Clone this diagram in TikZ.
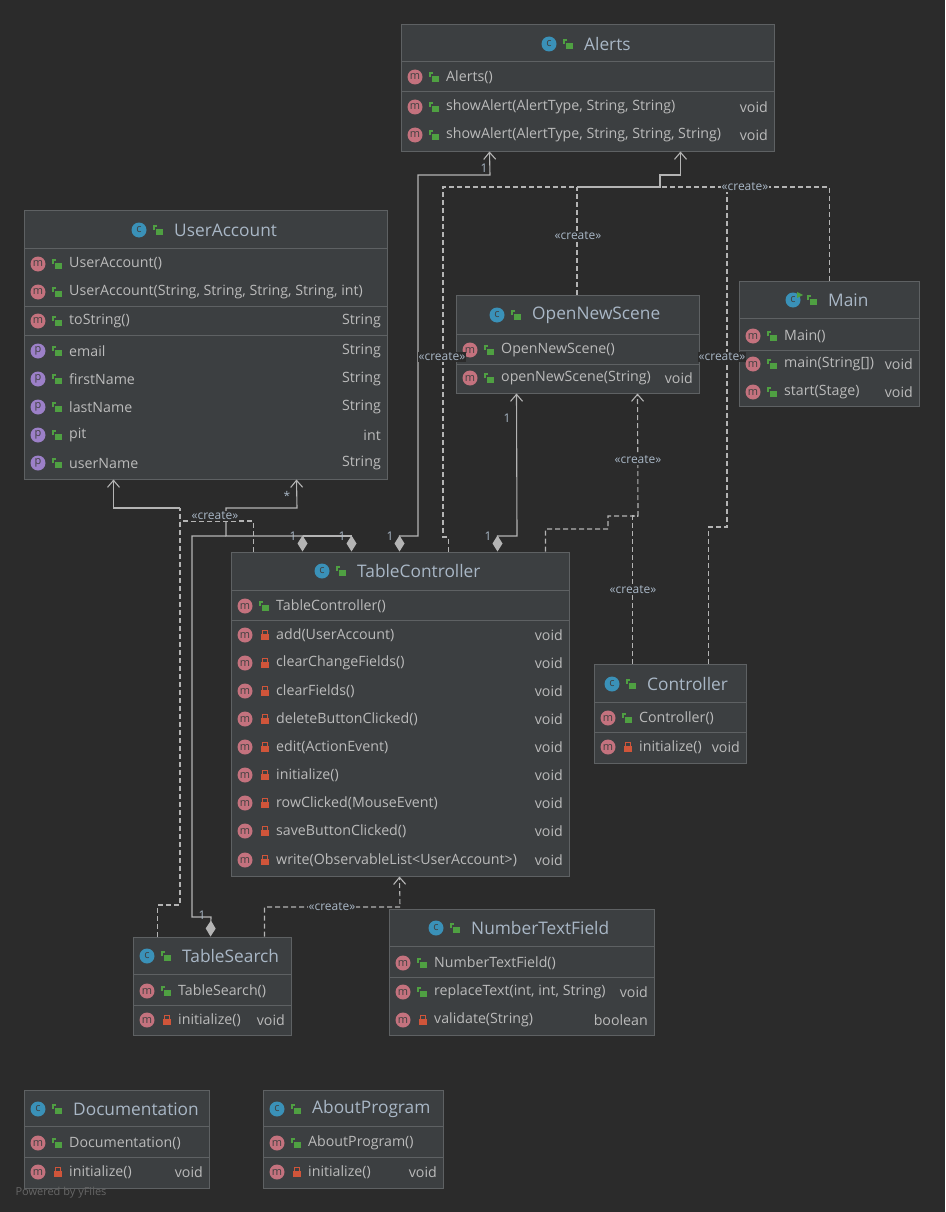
\documentclass[tikz,border=0pt]{standalone}
\usepackage{fontspec}
\setmainfont{Open Sans}
\usetikzlibrary{arrows.meta,calc}
\definecolor{bg}{HTML}{2B2B2B}
\definecolor{boxf}{HTML}{3C3F41}
\definecolor{bord}{HTML}{5E6163}
\definecolor{txt}{HTML}{BBBBBB}
\definecolor{ttl}{HTML}{A9B7C6}
\definecolor{lc}{HTML}{B4B4B4}
\definecolor{mcol}{HTML}{C4727E}
\definecolor{pcol}{HTML}{9C80C8}
\definecolor{ccol}{HTML}{3A91B8}
\definecolor{pub}{HTML}{4FA042}
\definecolor{pri}{HTML}{D0553A}
\tikzset{
 ubox/.style={draw=bord,fill=boxf,line width=1,inner sep=0},
 sep/.style={draw=bord,line width=1},
 rtxt/.style={anchor=west,text=txt,font=\fontsize{14.2}{16}\selectfont,inner sep=0},
 ttxt/.style={anchor=west,text=ttl,font=\fontsize{17.3}{19}\selectfont,inner sep=0},
 ln/.style={draw=lc,line width=1.1},
 dep/.style={ln,dash pattern=on 5pt off 3pt},
 tip/.style={-{Straight Barb[length=7,width=12]}},
 dia/.style={{Diamond[length=16,width=10,fill=lc]}-},
 agg/.style={{Diamond[length=16,width=10,fill=lc]}-{Straight Barb[length=7,width=12]}},
 lab/.style={text=ttl,font=\fontsize{12}{13}\selectfont,inner sep=1,fill=bg},
 mul/.style={text=ttl,font=\fontsize{12}{13}\selectfont,inner sep=0}
}
\newcommand\ubx[6]{\node[ubox,minimum width={#4-#2},minimum height={#5-#3}] (#1) at ({(#2+#4)/2},{(#3+#5)/2}) {};
 \draw[sep] (#2,#6) -- (#4,#6);}
\newcommand\sepl[3]{\draw[sep] (#1,#3) -- (#2,#3);}
\newcommand\ic[4]{\node[circle,fill=#3,inner sep=0,minimum size=15,text=black!75,font=\fontsize{11}{11}\selectfont] at (#1,#2) {#4};}
\newcommand\lk[2]{\fill[pub] ({#1-1},{#2-1}) rectangle ({#1+6},{#2+5});
 \draw[pub,line width=1.3] ({#1-3},{#2}) -- ({#1-3},{#2-4}) -- ({#1},{#2-4});}
\newcommand\lkp[2]{\fill[pri] ({#1-2},{#2-1}) rectangle ({#1+6},{#2+5});
 \draw[pri,line width=1.3] ({#1-0.5},{#2-1}) -- ({#1-0.5},{#2-4.5}) -- ({#1+4.5},{#2-4.5}) -- ({#1+4.5},{#2-1});}
\newcommand\ttlx[3]{\ic{#1}{#2}{ccol}{c}\lk{(#1+18)}{#2}\node[ttxt] at ({#1+35},#2) {#3};}
\newcommand\rw[8]{\ic{{#1+14}}{#3}{#4}{#5}#6{(#1+32)}{#3}\node[rtxt] at ({#1+45},#3) {#7};
 \node[rtxt,anchor=east] at ({#2-6},#3) {#8};}
\begin{document}
\begin{tikzpicture}[x=1pt,y=-1pt]
\useasboundingbox[fill=bg] (0,0) rectangle (945,1212);
% ---------- Alerts
\ubx{AL}{401}{25}{774}{151}{62}
\ttlx{549}{44}{Alerts}
\sepl{401}{774}{92}
\rw{401}{774}{77}{mcol}{m}{\lk}{Alerts()}{}
\rw{401}{774}{107}{mcol}{m}{\lk}{showAlert(AlertType, String, String)}{void}
\rw{401}{774}{135}{mcol}{m}{\lk}{showAlert(AlertType, String, String, String)}{void}
% ---------- UserAccount
\ubx{UA}{24}{210}{387}{479}{248}
\ttlx{139}{230}{UserAccount}
\sepl{24}{387}{306}\sepl{24}{387}{335}
\rw{24}{387}{264}{mcol}{m}{\lk}{UserAccount()}{}
\rw{24}{387}{292}{mcol}{m}{\lk}{UserAccount(String, String, String, String, int)}{}
\rw{24}{387}{321}{mcol}{m}{\lk}{toString()}{String}
\rw{24}{387}{351}{pcol}{p}{\lk}{email}{String}
\rw{24}{387}{379}{pcol}{p}{\lk}{firstName}{String}
\rw{24}{387}{407}{pcol}{p}{\lk}{lastName}{String}
\rw{24}{387}{435}{pcol}{p}{\lk}{pit}{int}
\rw{24}{387}{463}{pcol}{p}{\lk}{userName}{String}
% ---------- OpenNewScene
\ubx{ONS}{456}{295}{699}{393}{334}
\ttlx{497}{315}{OpenNewScene}
\sepl{456}{699}{364}
\rw{456}{699}{350}{mcol}{m}{\lk}{OpenNewScene()}{}
\rw{456}{699}{378}{mcol}{m}{\lk}{openNewScene(String)}{void}
% ---------- Main
\ubx{MN}{739}{281}{919}{406}{318}
\ttlx{793}{300}{Main}
\fill[pub] (797,292) -- (803,295) -- (797,298) -- cycle;
\sepl{739}{919}{350}
\rw{739}{919}{336}{mcol}{m}{\lk}{Main()}{}
\rw{739}{919}{364}{mcol}{m}{\lk}{main(String[])}{void}
\rw{739}{919}{392}{mcol}{m}{\lk}{start(Stage)}{void}
% ---------- TableController
\ubx{TC}{231}{552}{569}{876}{590}
\ttlx{322}{571}{TableController}
\sepl{231}{569}{620}
\rw{231}{569}{606}{mcol}{m}{\lk}{TableController()}{}
\rw{231}{569}{635}{mcol}{m}{\lkp}{add(UserAccount)}{void}
\rw{231}{569}{663}{mcol}{m}{\lkp}{clearChangeFields()}{void}
\rw{231}{569}{691}{mcol}{m}{\lkp}{clearFields()}{void}
\rw{231}{569}{719}{mcol}{m}{\lkp}{deleteButtonClicked()}{void}
\rw{231}{569}{747}{mcol}{m}{\lkp}{edit(ActionEvent)}{void}
\rw{231}{569}{775}{mcol}{m}{\lkp}{initialize()}{void}
\rw{231}{569}{803}{mcol}{m}{\lkp}{rowClicked(MouseEvent)}{void}
\rw{231}{569}{831}{mcol}{m}{\lkp}{saveButtonClicked()}{void}
\rw{231}{569}{860}{mcol}{m}{\lkp}{write(ObservableList<UserAccount>)}{void}
% ---------- Controller
\ubx{CT}{594}{664}{746}{763}{702}
\ttlx{612}{684}{Controller}
\sepl{594}{746}{732}
\rw{594}{746}{718}{mcol}{m}{\lk}{Controller()}{}
\rw{594}{746}{747}{mcol}{m}{\lkp}{initialize()}{void}
% ---------- TableSearch
\ubx{TS}{133}{937}{291}{1035}{974}
\ttlx{147}{956}{TableSearch}
\sepl{133}{291}{1005}
\rw{133}{291}{991}{mcol}{m}{\lk}{TableSearch()}{}
\rw{133}{291}{1020}{mcol}{m}{\lkp}{initialize()}{void}
% ---------- NumberTextField
\ubx{NT}{389}{909}{654}{1035}{946}
\ttlx{436}{928}{NumberTextField}
\sepl{389}{654}{977}
\rw{389}{654}{963}{mcol}{m}{\lk}{NumberTextField()}{}
\rw{389}{654}{992}{mcol}{m}{\lk}{replaceText(int, int, String)}{void}
\rw{389}{654}{1020}{mcol}{m}{\lkp}{validate(String)}{boolean}
% ---------- Documentation
\ubx{DC}{24}{1090}{209}{1188}{1126}
\ttlx{38}{1109}{Documentation}
\sepl{24}{209}{1157}
\rw{24}{209}{1143}{mcol}{m}{\lk}{Documentation()}{}
\rw{24}{209}{1172}{mcol}{m}{\lkp}{initialize()}{void}
% ---------- AboutProgram
\ubx{AP}{263}{1090}{443}{1188}{1126}
\ttlx{277}{1109}{AboutProgram}
\sepl{263}{443}{1157}
\rw{263}{443}{1143}{mcol}{m}{\lk}{AboutProgram()}{}
\rw{263}{443}{1172}{mcol}{m}{\lkp}{initialize()}{void}
% ---------- connectors: aggregations
\draw[ln,agg] ($(TC.north west)+(72,0)$) |- (226,536) |- (297,508) -- ($(UA.south west)+(273,0)$);
\draw[ln,dia] ($(TC.north west)+(121,0)$) |- (303,536);
\draw[ln,dia] ($(TS.north west)+(78,0)$) -- (211,917) -| (192,536) -- (226,536);
\draw[ln,agg] ($(TC.north west)+(169,0)$) |- (418,536) |- (490,175) -- ($(AL.south west)+(89,0)$);
\draw[ln,agg] ($(TC.north west)+(267,0)$) |- (517,536) -- ($(ONS.south west)+(61,0)$);
\node[mul] at (293,536) {1};
\node[mul] at (342,536) {1};
\node[mul] at (390,536) {1};
\node[mul] at (488,536) {1};
\node[mul] at (202,915) {1};
\node[mul] at (287,496) {*};
\node[mul] at (484,168) {1};
\node[mul] at (507,418) {1};
% ---------- dependencies
\draw[dep] ($(TS.north west)+(25,0)$) |- (180,905) -- (180,508);
\draw[ln,tip] (180,508) -| ($(UA.south west)+(90,0)$);
\draw[dep] ($(TC.north west)+(23,0)$) |- (180,521);
\node[lab] at (215,516) {«create»};
\draw[dep] ($(TC.north west)+(218,0)$) |- (443,537) |- (577,187);
\draw[ln,tip] (577,187) -| (660,175) -| ($(AL.south west)+(280,0)$);
\draw[dep] (ONS.north -| 577,0) -- (577,187);
\draw[dep] ($(MN.north west)+(91,0)$) |- (660,187);
\draw[dep] ($(CT.north west)+(115,0)$) |- (727,527) -- (727,187);
\node[lab] at (745,187) {«create»};
\node[lab] at (578,236) {«create»};
\node[lab] at (442,357) {«create»};
\node[lab] at (722,357) {«create»};
\draw[dep,tip] ($(TC.north west)+(315,0)$) |- (608,529) |- (638,516) -- ($(ONS.south west)+(182,0)$);
\draw[dep] ($(CT.north west)+(39,0)$) |- (638,516);
\node[lab] at (638,460) {«create»};
\node[lab] at (633,590) {«create»};
\draw[dep,tip] ($(TS.north west)+(132,0)$) |- (400,907) -- ($(TC.south west)+(169,0)$);
\node[lab] at (332,907) {«create»};
\node[anchor=west,text=gray!70!bg,font=\fontsize{11}{12}\selectfont] at (12,1193) {Powered by yFiles};
\end{tikzpicture}
\end{document}
